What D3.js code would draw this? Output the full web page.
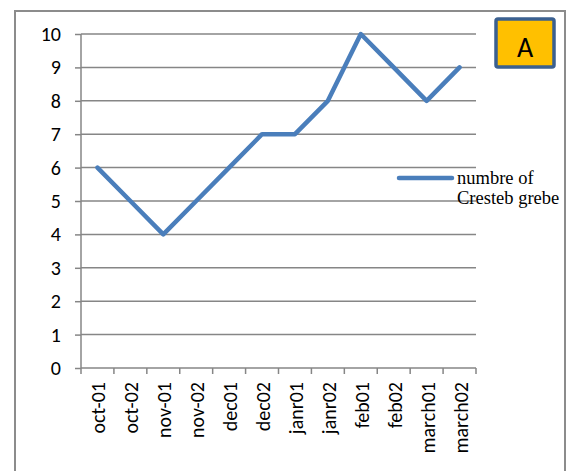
<!DOCTYPE html>
<html>
<head>
<meta charset="utf-8">
<script src="https://cdn.jsdelivr.net/npm/d3@7/dist/d3.min.js"></script>
<style>
  html, body { margin: 0; padding: 0; background: #fff; }
  svg { display: block; }
</style>
</head>
<body>
<svg id="chart" width="568" height="471"></svg>
<script>
// Monthly counts of crested grebes, two observations per month
const categories = ["oct-01", "oct-02", "nov-01", "nov-02", "dec01", "dec02",
                    "janr01", "janr02", "feb01", "feb02", "march01", "march02"];
const counts = [6, 5, 4, 5, 6, 7, 7, 8, 10, 9, 8, 9];
const yTicks = [0, 1, 2, 3, 4, 5, 6, 7, 8, 9, 10];
const seriesName = ["numbre of", "Cresteb grebe"];
const badgeLabel = "A";

const svg = d3.select("#chart");
const plot = { left: 81, right: 476, top: 34, bottom: 368 };
const sans = "Carlito, Lato, 'Open Sans', sans-serif";

// outer frame
svg.append("rect")
  .attr("x", 15).attr("y", 11)
  .attr("width", 550).attr("height", 480)
  .attr("fill", "#fff").attr("stroke", "#8c8c8c").attr("stroke-width", 2);

const x = d3.scaleBand().domain(categories).range([plot.left, plot.right]);
const y = d3.scaleLinear().domain([0, 10]).range([plot.bottom, plot.top]);

// horizontal gridlines
svg.append("g")
  .selectAll("line")
  .data(yTicks.filter(d => d > 0))
  .join("line")
  .attr("x1", plot.left).attr("x2", plot.right)
  .attr("y1", d => y(d)).attr("y2", d => y(d))
  .attr("stroke", "#868686").attr("stroke-width", 1.5);

// y axis
const yAxis = svg.append("g")
  .attr("transform", `translate(${plot.left},0)`)
  .call(d3.axisLeft(y).tickValues(yTicks).tickSize(6).tickPadding(14).tickFormat(d3.format("d")));
yAxis.selectAll("path, line").attr("stroke", "#868686").attr("stroke-width", 1.5);
yAxis.select(".domain").attr("d", `M0,${plot.bottom}V${plot.top}`);
yAxis.selectAll("text")
  .attr("font-family", sans)
  .attr("font-size", 20).attr("fill", "#000");

// x axis with ticks on category boundaries
const xAxis = svg.append("g")
  .attr("transform", `translate(0,${plot.bottom})`);
xAxis.append("line")
  .attr("x1", plot.left).attr("x2", plot.right)
  .attr("stroke", "#868686").attr("stroke-width", 1.5);
const boundaries = categories.map(c => x(c)).concat([x(categories[categories.length - 1]) + x.bandwidth()]);
xAxis.selectAll("line.tick")
  .data(boundaries)
  .join("line")
  .attr("class", "tick")
  .attr("x1", d => d).attr("x2", d => d)
  .attr("y1", 0).attr("y2", 6)
  .attr("stroke", "#868686").attr("stroke-width", 1.5);
xAxis.selectAll("text")
  .data(categories)
  .join("text")
  .attr("transform", d => `translate(${x(d) + x.bandwidth() / 2 + 8},14) rotate(-90)`)
  .attr("text-anchor", "end")
  .attr("font-family", sans)
  .attr("font-size", 20)
  .attr("fill", "#000")
  .text(d => d);

// data line
const line = d3.line()
  .x((d, i) => x(categories[i]) + x.bandwidth() / 2)
  .y(d => y(d));
svg.append("path")
  .datum(counts)
  .attr("d", line)
  .attr("fill", "none")
  .attr("stroke", "#4a7ebb")
  .attr("stroke-width", 4.5)
  .attr("stroke-linejoin", "round")
  .attr("stroke-linecap", "round");

// legend
svg.append("line")
  .attr("x1", 399).attr("x2", 452)
  .attr("y1", 178).attr("y2", 178)
  .attr("stroke", "#4a7ebb").attr("stroke-width", 4.5)
  .attr("stroke-linecap", "round");
svg.append("text")
  .attr("x", 457).attr("y", 184)
  .attr("font-family", "'Liberation Serif', 'Times New Roman', serif")
  .attr("font-size", 18.5).attr("fill", "#000")
  .selectAll("tspan")
  .data(seriesName)
  .join("tspan")
  .attr("x", 457)
  .attr("dy", (d, i) => i === 0 ? 0 : 20)
  .text(d => d);

// corner badge
svg.append("rect")
  .attr("x", 496).attr("y", 19)
  .attr("width", 58).attr("height", 48)
  .attr("rx", 2)
  .attr("fill", "#ffc000")
  .attr("stroke", "#3b6090").attr("stroke-width", 3.5);
svg.append("text")
  .attr("x", 525).attr("y", 57)
  .attr("text-anchor", "middle")
  .attr("font-family", sans)
  .attr("font-size", 28).attr("fill", "#000")
  .text(badgeLabel);
</script>
</body>
</html>
